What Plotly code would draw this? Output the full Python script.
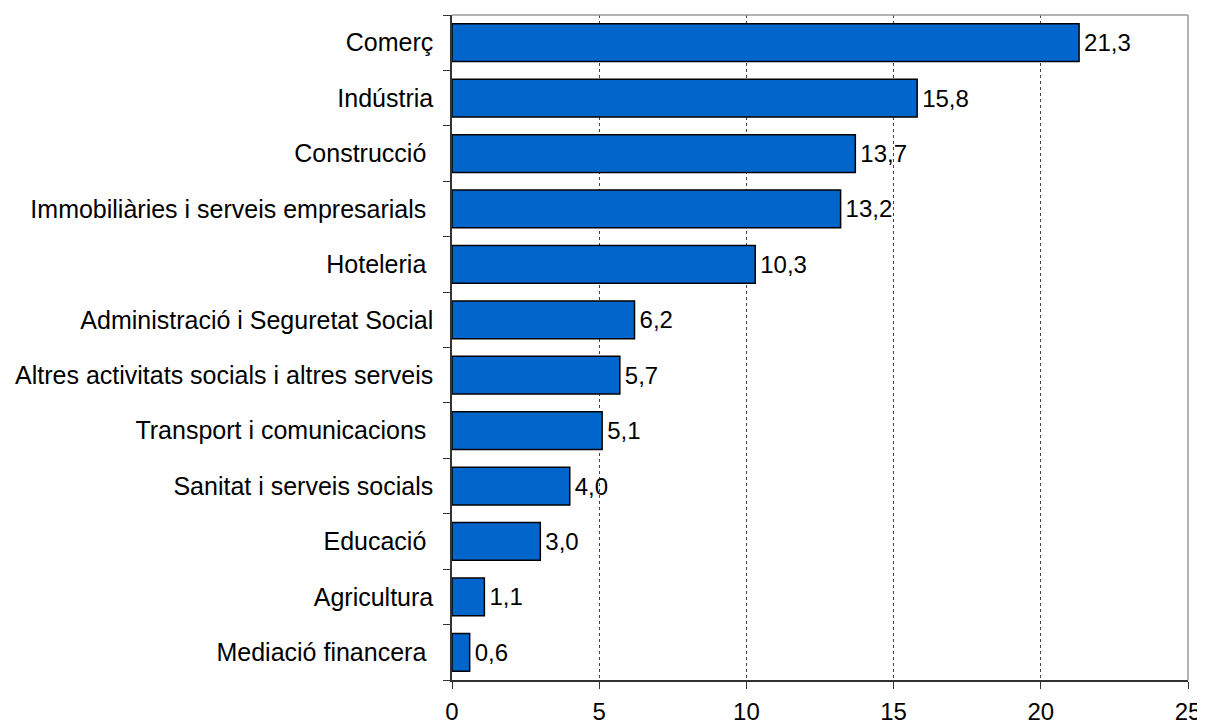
import plotly.graph_objects as go

# Sectors, from bottom to top
sectors = [
    "Mediació financera ",
    "Agricultura",
    "Educació ",
    "Sanitat i serveis socials",
    "Transport i comunicacions ",
    "Altres activitats socials i altres serveis",
    "Administració i Seguretat Social",
    "Hoteleria ",
    "Immobiliàries i serveis empresarials ",
    "Construcció ",
    "Indústria",
    "Comerç",
]
values = [0.6, 1.1, 3.0, 4.0, 5.1, 5.7, 6.2, 10.3, 13.2, 13.7, 15.8, 21.3]
x_ticks = [0, 5, 10, 15, 20, 25]

FONT = "Liberation Sans, Arial, sans-serif"

fig = go.Figure(go.Bar(
    x=values,
    y=sectors,
    orientation="h",
    marker=dict(color="#0066CC", line=dict(color="black", width=1.5)),
    width=0.68,
    texttemplate="\u200a%{x:.1f}",
    textposition="outside",
    textfont=dict(size=24, color="black", family=FONT),
    cliponaxis=False,
    hoverinfo="skip",
))

# the page body has an 8px margin, so the figure is drawn 8px smaller
fig.update_layout(
    width=1197, height=717,
    margin=dict(l=444, r=17, t=7, b=45, autoexpand=False),
    paper_bgcolor="white", plot_bgcolor="white",
    separators=", ",
    showlegend=False,
    font=dict(family=FONT, size=24, color="black"),
    xaxis=dict(
        range=[0, 25], tickvals=x_ticks, automargin=False,
        showgrid=True, gridcolor="#444", griddash="dot", gridwidth=1,
        zeroline=False, showline=True, linecolor="#333", linewidth=1.5,
        ticks="outside", ticklen=7, tickcolor="#333",
        ticklabelstandoff=2,
        tickfont=dict(size=24),
    ),
    yaxis=dict(
        type="category", tickson="boundaries", automargin=False,
        showgrid=False, zeroline=False,
        showline=True, linecolor="#333", linewidth=1.5,
        ticks="outside", ticklen=7, tickcolor="#333",
        ticklabelstandoff=12,
        tickfont=dict(size=25),
    ),
    shapes=[
        dict(type="line", xref="paper", yref="paper", x0=0, x1=1, y0=1, y1=1,
             line=dict(color="#999", width=1.5)),
        dict(type="line", xref="paper", yref="paper", x0=1, x1=1, y0=0, y1=1,
             line=dict(color="#999", width=1.5)),
    ],
)

fig.write_html("out.html")
